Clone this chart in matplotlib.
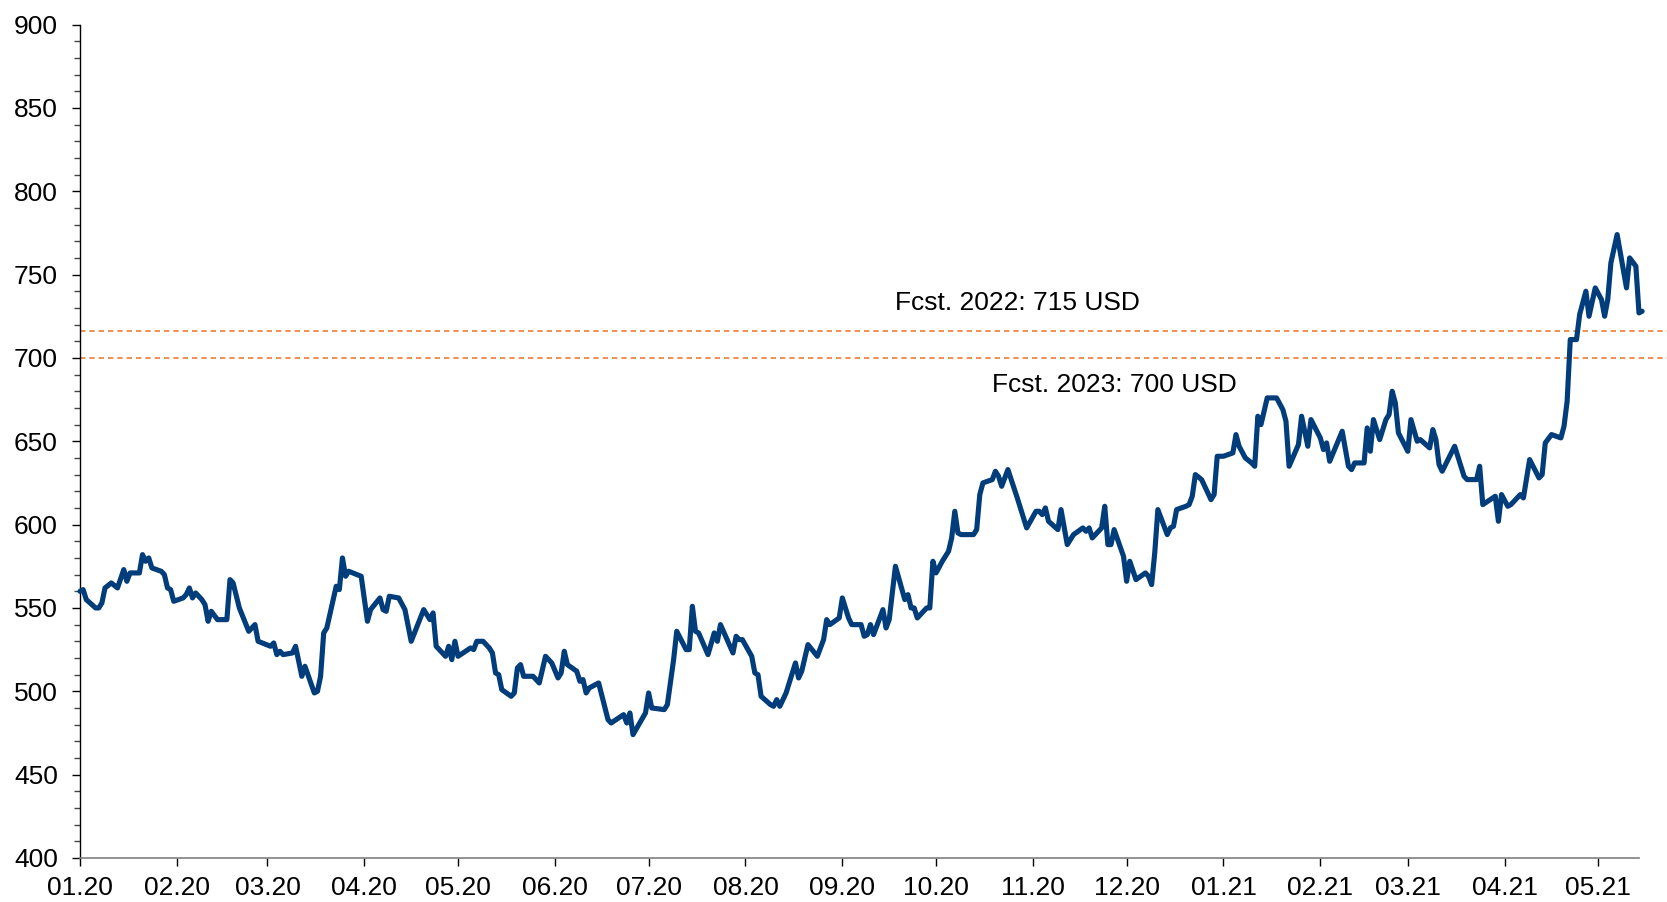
import matplotlib
matplotlib.use("Agg")
import matplotlib.pyplot as plt
import matplotlib.dates as mdates
import matplotlib.ticker as mticker
import pandas as pd
import numpy as np

plt.rcParams['font.family'] = ['Liberation Sans', 'DejaVu Sans']

# Days since 2020-01-01 and price values (USD)
start_date = "2020-01-01"
day_offsets = [
    0, 1, 2, 5, 6, 7, 8, 10, 12, 14, 15, 16, 19, 20, 21, 22, 23, 26, 27, 28,
    29, 30, 33, 34, 35, 36, 37, 39, 40, 41, 42, 44, 47, 48, 49, 51, 54, 56, 57, 61,
    62, 63, 64, 65, 68, 69, 71, 72, 75, 76, 77, 78, 79, 82, 83, 84, 85, 86, 90, 92,
    93, 96, 97, 98, 99, 102, 104, 106, 110, 111, 112, 113, 114, 117, 118, 119, 120, 121, 125, 126,
    127, 129, 131, 132, 133, 134, 135, 138, 139, 140, 141, 142, 145, 147, 149, 151, 153, 154, 155, 156,
    159, 160, 161, 162, 163, 166, 169, 170, 174, 175, 176, 177, 181, 182, 183, 187, 188, 190, 191, 194,
    195, 196, 197, 198, 201, 203, 204, 205, 209, 210, 211, 212, 215, 216, 217, 218, 221, 222, 223, 224,
    226, 229, 230, 231, 233, 236, 238, 239, 240, 243, 244, 246, 247, 250, 251, 252, 253, 254, 257, 258,
    259, 261, 264, 265, 266, 267, 268, 271, 272, 273, 274, 276, 278, 279, 280, 281, 282, 286, 287, 288,
    289, 292, 293, 294, 295, 297, 300, 303, 306, 307, 308, 309, 310, 313, 314, 316, 318, 321, 322, 323,
    324, 327, 328, 329, 330, 331, 334, 335, 336, 338, 341, 342, 343, 344, 345, 348, 349, 350, 351, 354,
    355, 356, 357, 359, 362, 363, 364, 366, 369, 370, 371, 373, 375, 376, 377, 378, 380, 383, 385, 386,
    387, 390, 391, 393, 394, 397, 398, 399, 400, 404, 406, 407, 408, 411, 412, 413, 414, 416, 418, 419,
    420, 421, 422, 425, 426, 428, 429, 432, 433, 434, 435, 436, 440, 443, 444, 447, 448, 449, 453, 454,
    455, 457, 458, 461, 462, 464, 467, 468, 469, 471, 474, 475, 476, 477, 479, 480, 482, 483, 485, 487,
    488, 489, 490, 492, 495, 496, 498, 499, 500,
]
prices = [
    560, 561, 555, 550, 550, 553, 562, 565, 562, 573, 566, 571, 571, 582, 578, 580, 574, 572, 570, 562,
    561, 554, 556, 558, 562, 556, 559, 555, 552, 542, 548, 543, 543, 567, 565, 550, 536, 540, 530, 527,
    529, 522, 524, 522, 523, 527, 509, 515, 499, 500, 509, 535, 538, 563, 561, 580, 569, 572, 569, 542,
    549, 556, 549, 548, 557, 556, 549, 530, 549, 546, 543, 547, 527, 521, 527, 519, 530, 521, 526, 525,
    530, 530, 526, 523, 511, 510, 501, 497, 499, 514, 516, 509, 509, 505, 521, 517, 508, 511, 524, 516,
    512, 506, 507, 499, 502, 505, 483, 481, 486, 481, 487, 474, 487, 499, 490, 489, 492, 519, 536, 525,
    525, 551, 536, 535, 522, 535, 530, 540, 523, 533, 531, 531, 521, 511, 510, 497, 492, 491, 495, 491,
    499, 517, 508, 512, 528, 521, 531, 543, 540, 544, 556, 544, 540, 540, 533, 534, 540, 534, 549, 538,
    543, 575, 555, 558, 550, 550, 544, 550, 550, 578, 571, 578, 584, 592, 608, 595, 594, 594, 597, 618,
    625, 627, 632, 629, 623, 633, 616, 598, 608, 608, 606, 610, 602, 597, 609, 588, 594, 598, 596, 598,
    592, 598, 611, 588, 588, 597, 581, 566, 578, 567, 571, 569, 564, 583, 609, 594, 598, 599, 609, 611,
    612, 617, 630, 627, 615, 618, 641, 641, 643, 654, 647, 640, 637, 635, 665, 660, 676, 676, 669, 662,
    635, 648, 665, 647, 663, 652, 645, 649, 638, 656, 635, 633, 637, 637, 658, 644, 663, 651, 663, 666,
    680, 673, 655, 644, 663, 650, 651, 646, 657, 651, 636, 632, 647, 629, 627, 627, 635, 612, 617, 602,
    618, 611, 612, 618, 616, 639, 628, 630, 649, 654, 652, 659, 674, 711, 711, 726, 740, 725, 742, 735,
    725, 735, 757, 774, 742, 760, 755, 727, 728,
]

forecast_labels = ["Fcst. 2022: 715 USD", "Fcst. 2023: 700 USD"]
forecast_levels = [716, 700]

dates = pd.Timestamp(start_date) + pd.to_timedelta(day_offsets, unit="D")

fig = plt.figure(figsize=(16.67, 9.02), dpi=100)
ax = fig.add_axes([0.048, 0.0488, 0.9352, 0.924])

line_color = "#003D7A"
orange = "#ED7D31"

ax.plot(dates, prices, color=line_color, lw=3.7, solid_joinstyle="round",
        solid_capstyle="round", clip_on=False, zorder=3)

for lvl in forecast_levels:
    ax.axhline(lvl, xmin=0, xmax=1.018, color=orange, lw=1.2,
               linestyle=(0, (3.2, 2.4)), clip_on=False, zorder=2)

ax.text(pd.Timestamp("2020-09-18"), 733, forecast_labels[0], fontsize=19,
        ha="left", va="center", color="black")
ax.text(pd.Timestamp("2020-10-19"), 684, forecast_labels[1], fontsize=19,
        ha="left", va="center", color="black")

ax.set_ylim(400, 900)
ax.set_xlim(pd.Timestamp("2020-01-01"), pd.Timestamp("2021-05-14"))

ax.yaxis.set_major_locator(mticker.MultipleLocator(50))
ax.yaxis.set_minor_locator(mticker.MultipleLocator(10))
ax.xaxis.set_major_locator(mdates.MonthLocator())
ax.xaxis.set_major_formatter(mdates.DateFormatter("%m.%y"))

ax.tick_params(axis="y", which="major", direction="out", length=6, width=1,
               labelsize=19, pad=10, color="black")
ax.tick_params(axis="y", which="minor", direction="out", length=4, width=1,
               color="#444444")
ax.tick_params(axis="x", which="major", direction="out", length=6, width=1,
               labelsize=19, pad=7, color="black")

for s in ["top", "right"]:
    ax.spines[s].set_visible(False)
ax.spines["left"].set_color("black")
ax.spines["bottom"].set_color("#808080")
ax.spines["left"].set_linewidth(1)
ax.spines["bottom"].set_linewidth(1.2)

fig.savefig("out.png", dpi=100)
